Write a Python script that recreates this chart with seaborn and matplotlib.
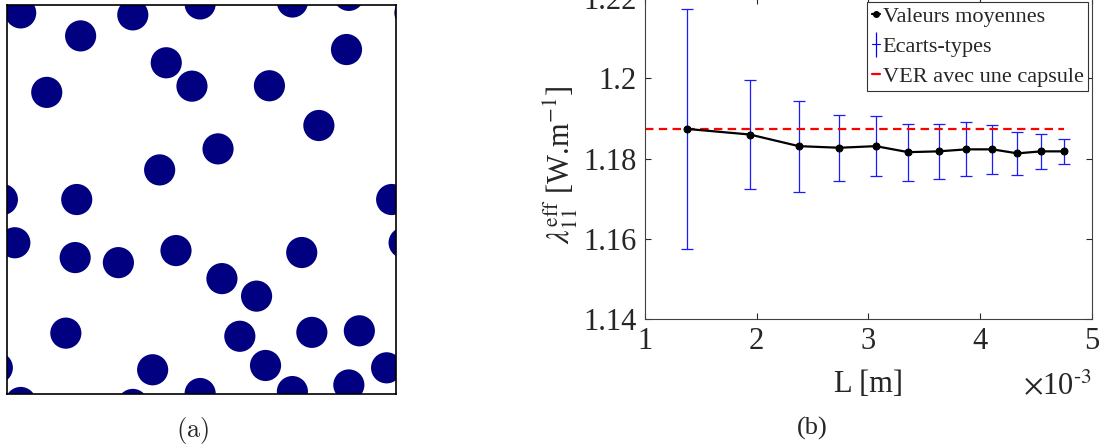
import numpy as np
import matplotlib
matplotlib.use("Agg")
import matplotlib.pyplot as plt
from matplotlib.patches import Circle
from matplotlib.lines import Line2D
import seaborn as sns

# (a) inclusion centres in the unit cell (x right, y down), periodic
centre_x = [0.036, 0.190, 0.324, 0.497, 0.734, 0.879, 0.873, 0.410, 0.476, 0.675,
            0.103, 0.802, 0.543, 0.393, 0.180, 0.989, 0.021, 0.176, 0.287, 0.435,
            0.758, 0.553, 0.642, 0.152, 0.599, 0.784, 0.906, 0.375, 0.665, 0.976]
centre_y = [0.021, 0.080, 0.026, -0.002, -0.007, -0.024, 0.115, 0.149, 0.209, 0.208,
            0.225, 0.310, 0.370, 0.424, 0.500, 0.500, 0.611, 0.649, 0.662, 0.631,
            0.636, 0.703, 0.748, 0.843, 0.851, 0.841, 0.837, 0.937, 0.926, 0.932]
radius = 0.040

# (b) effective conductivity vs cell size (L in 1e-3 m)
L_size = [1.375, 1.940, 2.378, 2.741, 3.066, 3.357, 3.628, 3.875, 4.110, 4.333, 4.545, 4.747]
lam_mean = [1.1874, 1.1860, 1.1831, 1.1827, 1.1831, 1.1816, 1.1818, 1.1823, 1.1823,
            1.1813, 1.1818, 1.1818]
lam_std = [0.0300, 0.0135, 0.01135, 0.0082, 0.0074, 0.0071, 0.0069, 0.0067, 0.0061,
           0.0053, 0.00435, 0.0032]
ver_value = 1.1874
x_ticks = [1, 2, 3, 4, 5]
y_ticks = [1.14, 1.16, 1.18, 1.20, 1.22]

sns.set_theme(style="ticks")
plt.rcParams["font.family"] = ["Liberation Serif", "DejaVu Serif"]
plt.rcParams["mathtext.fontset"] = "stix"

fig = plt.figure(figsize=(11.1, 4.46), dpi=100)

# ---- panel (a)
ax_a = fig.add_axes([0.006, 0.1159, 0.3507, 0.8735])
for cx, cy in zip(centre_x, centre_y):
    for dx in (-1, 0, 1):
        for dy in (-1, 0, 1):
            ax_a.add_patch(Circle((cx + dx, cy + dy), radius, facecolor="#000080",
                                  edgecolor="none"))
ax_a.set_xlim(0, 1)
ax_a.set_ylim(1, 0)
ax_a.set_xticks([])
ax_a.set_yticks([])
for sp in ax_a.spines.values():
    sp.set_color("black")
    sp.set_linewidth(1.2)
fig.text(193 / 1110, 1 - 430 / 446, r"$(\mathrm{a})$", fontsize=19, ha="center",
         va="center", math_fontfamily="cm")

# ---- panel (b)
ax = fig.add_axes([0.5808, 0.2848, 0.4030, 0.7193])
ax.errorbar(L_size, lam_mean, yerr=lam_std, fmt="none", ecolor="#1a1aff",
            elinewidth=0.9, capsize=4, capthick=0.9, zorder=2)
ax.hlines(ver_value, x_ticks[0], L_size[-1], colors="red", linestyles=(0, (3.8, 2.4)),
          linewidth=1.6, zorder=2.5)
sns.lineplot(x=L_size, y=lam_mean, ax=ax, color="black", marker="o", markersize=5,
             markeredgecolor="black", linewidth=1.6, zorder=3)

ax.set_xlim(x_ticks[0], x_ticks[-1])
ax.set_ylim(y_ticks[0], y_ticks[-1])
ax.set_xticks(x_ticks)
ax.set_yticks(y_ticks)
ax.set_yticklabels([f"{v:g}" for v in y_ticks])
ax.tick_params(direction="in", top=True, right=True, length=4, width=0.8,
               labelsize=22, colors="#262626")
ax.tick_params(axis="x", pad=6)
ax.tick_params(axis="y", pad=6)
for sp in ax.spines.values():
    sp.set_visible(True)
    sp.set_color("#404040")
    sp.set_linewidth(0.8)

ax.set_xlabel("L [m]", fontsize=22, labelpad=10)
ax.set_ylabel(r"$\lambda_{11}^{\mathrm{eff}}$ [W.m$^{-1}$]", fontsize=22)
ax.yaxis.set_label_coords(-0.145, 0.48)
ax.text(1.0, -0.21, r"$\times$10$^{\text{-}3}$", transform=ax.transAxes, fontsize=22,
        ha="right", va="center")

handles = [
    Line2D([], [], color="black", marker="o", markersize=4, linewidth=1.6),
    Line2D([], [], color="blue", marker="|", markersize=18, linewidth=0.8,
           markeredgewidth=0.9),
    Line2D([], [], color="red", linestyle="-", linewidth=1.6),
]
labels = ["Valeurs moyennes", "Ecarts-types", "VER avec une capsule"]
leg = ax.legend(handles, labels, loc="upper right", fontsize=16, frameon=True,
                fancybox=False, framealpha=1, edgecolor="#333333", handlelength=0.4,
                handletextpad=0.1, borderpad=0.2, labelspacing=0.42,
                borderaxespad=0.18)
leg.get_frame().set_linewidth(0.8)

fig.text(812 / 1110, 1 - 428 / 446, "(b)", fontsize=19, ha="center", va="center")

fig.savefig("out.png", dpi=100)
